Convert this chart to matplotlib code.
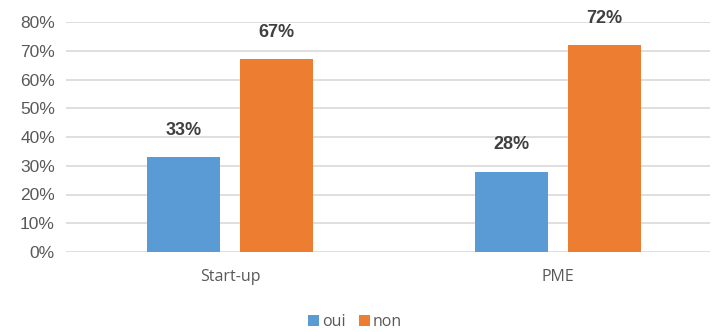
import numpy as np
import matplotlib.pyplot as plt
from matplotlib.ticker import PercentFormatter

# Chart data
categories = ['Start-up', 'PME']
oui = [33, 28]
non = [67, 72]
yticks = [0, 10, 20, 30, 40, 50, 60, 70, 80]

blue = '#5B9BD5'
orange = '#ED7D31'
grey = '#595959'

fig = plt.figure(figsize=(7.12, 3.32), dpi=100)
ax = fig.add_axes([66 / 712, 1 - 252 / 332, (710 - 66) / 712, 230 / 332])

x = np.arange(len(categories))
width = 0.2226
offset = 0.142

b1 = ax.bar(x - offset, oui, width, color=blue, label='oui', zorder=2)
b2 = ax.bar(x + offset, non, width, color=orange, label='non', zorder=2)

for bars in (b1, b2):
    for bar in bars:
        h = bar.get_height()
        ax.text(bar.get_x() + bar.get_width() / 2, h + 6.3, f'{h:.0f}%',
                ha='center', va='bottom', fontsize=13, fontweight='bold',
                color='#404040', family='Liberation Sans')

ax.set_xlim(-0.5, -0.5 + (710 - 66) / 328)
ax.set_ylim(0, 80)
ax.set_yticks(yticks)
ax.yaxis.set_major_formatter(PercentFormatter(decimals=0))
ax.set_xticks(x)
ax.set_xticklabels(categories, family='Open Sans', fontsize=11.5, color=grey)
for lab in ax.get_yticklabels():
    lab.set_family('Liberation Sans')
    lab.set_fontsize(12.5)
    lab.set_color(grey)

ax.grid(axis='y', color='#d9d9d9', linewidth=1.2, zorder=0)
ax.tick_params(length=0)
ax.tick_params(axis='x', pad=12)
ax.tick_params(axis='y', pad=8)
for s in ax.spines.values():
    s.set_visible(False)

fig.legend(loc='center', bbox_to_anchor=(355 / 712, 1 - 322 / 332), ncol=2,
           frameon=False, handlelength=0.7, handleheight=0.7, handletextpad=0.2,
           columnspacing=0.8, prop={'family': 'Open Sans', 'size': 11.5},
           labelcolor=grey)

fig.savefig('out.png', dpi=100, facecolor='white')
